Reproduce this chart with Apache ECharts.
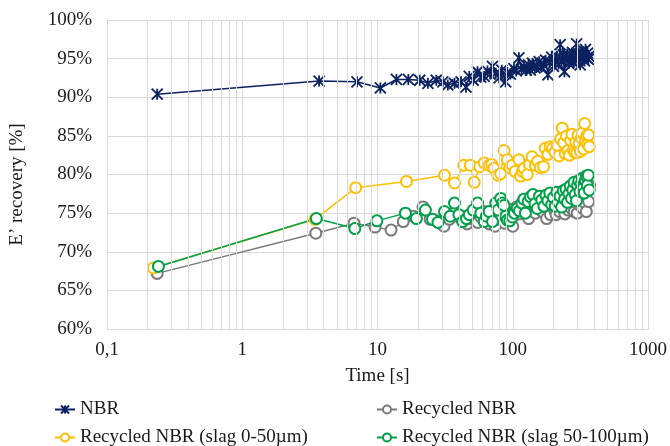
<!DOCTYPE html>
<html>
<head>
<meta charset="utf-8">
<script src="https://cdn.jsdelivr.net/npm/echarts@6/dist/echarts.min.js"></script>
<style>
html, body { margin: 0; background: #fff; }
#chart { width: 670px; height: 446px; }
</style>
</head>
<body>
<div id="chart"></div>
<script>
// time [s] and E' recovery [%] for each compound
var nbrTime = [0.235, 3.7, 7.05, 10.5, 13.8, 16.9, 20.5, 23.6, 27.2, 30.4, 33.1, 37.1, 41.5, 45.1, 47.7, 51, 54.9, 58, 61.5, 65, 68, 70.8, 74.9, 79.3, 83, 88.6, 91.2, 96, 102, 106, 111, 116, 121, 126, 131, 135, 140, 146, 151, 157, 163, 169, 175, 182, 188, 194, 200, 206, 212, 218, 224, 230, 236, 241, 247, 253, 259, 265, 271, 277, 283, 290, 297, 303, 309, 315, 321, 327, 333, 339, 345, 351, 357, 362, 366];
var nbrValue = [90.4, 92.1, 92.0, 91.2, 92.3, 92.3, 92.2, 91.8, 92.2, 92.0, 91.6, 91.8, 92.0, 91.3, 92.7, 92.2, 93.3, 92.6, 92.7, 93.4, 93.0, 94.0, 93.1, 92.5, 93.5, 92.0, 93.2, 93.0, 93.7, 93.4, 95.1, 93.6, 94.0, 93.5, 94.2, 93.5, 94.4, 93.8, 94.0, 94.6, 93.9, 94.2, 94.8, 92.9, 94.5, 95.2, 94.0, 94.7, 95.3, 94.3, 96.8, 94.6, 95.5, 93.3, 95.0, 95.6, 94.4, 95.2, 94.7, 95.8, 94.5, 95.4, 96.9, 94.8, 95.6, 94.2, 95.9, 95.0, 95.4, 94.7, 96.2, 95.1, 95.7, 94.9, 95.3];

var recTime = [0.235, 3.5, 6.7, 9.6, 12.6, 15.5, 18.5, 21.7, 24.5, 27.5, 31, 34, 37, 40, 43, 46, 49, 52, 55, 58, 61, 64, 67, 70, 74, 77, 80, 83, 87, 90, 94, 97, 100, 103, 107, 111, 116, 121, 126, 131, 137, 142, 147, 153, 159, 165, 171, 178, 184, 190, 196, 203, 209, 216, 222, 229, 236, 243, 250, 257, 264, 271, 278, 285, 292, 300, 307, 314, 322, 329, 336, 343, 350, 357, 364, 370];
var recValue = [67.2, 72.4, 73.7, 73.2, 72.8, 73.9, 74.6, 75.8, 74.2, 74.0, 73.3, 74.2, 75.0, 74.5, 74.0, 73.6, 74.3, 74.8, 73.8, 74.5, 75.2, 74.0, 73.6, 74.6, 73.3, 74.2, 75.0, 74.4, 73.7, 74.8, 75.5, 74.0, 73.3, 75.2, 75.8, 74.9, 75.6, 76.1, 75.3, 74.3, 75.8, 76.3, 75.0, 75.9, 76.4, 75.2, 76.0, 74.3, 75.5, 74.8, 76.2, 75.4, 74.8, 76.0, 75.2, 76.5, 75.6, 74.9, 76.2, 75.4, 76.8, 75.6, 77.1, 75.2, 76.4, 75.0, 77.3, 76.0, 77.6, 75.6, 76.9, 76.3, 75.2, 77.8, 76.5, 78.6];

var slag1Time = [0.22, 3.45, 6.9, 16.4, 31.3, 37.1, 43.5, 48.6, 51.9, 57, 61.5, 66.9, 70, 72.6, 77.6, 81.5, 86.3, 91.2, 95, 99.1, 104, 111, 114, 118, 121, 128, 133, 139, 147, 153, 160, 169, 174, 182, 189, 197, 205, 213, 220, 226, 232, 238, 244, 250, 256, 262, 268, 274, 280, 286, 292, 298, 304, 310, 316, 322, 328, 334, 340, 346, 352, 358, 364, 368];
var slag1Value = [67.9, 74.2, 78.3, 79.1, 79.9, 78.9, 81.2, 81.2, 79.0, 81.0, 81.5, 81.2, 81.3, 80.8, 79.9, 80.1, 83.1, 81.9, 80.9, 81.2, 80.4, 81.9, 79.8, 80.4, 80.8, 80.0, 81.3, 82.3, 81.2, 81.7, 80.9, 81.0, 83.4, 82.6, 83.6, 83.4, 82.9, 83.8, 82.4, 84.6, 86.0, 84.1, 82.7, 85.0, 83.1, 82.5, 84.4, 85.2, 83.2, 82.9, 84.2, 82.8, 85.1, 84.0, 83.0, 84.7, 85.4, 83.3, 86.6, 84.4, 85.0, 83.9, 85.1, 83.6];

var slag2Time = [0.24, 3.53, 6.8, 9.9, 16.1, 19.4, 22.6, 25.5, 28.0, 31.3, 34.5, 37.1, 40, 42.6, 45.5, 47.7, 51, 55, 58.1, 61.5, 64, 66.9, 70.8, 74.9, 78, 81.5, 84, 86.3, 89, 91.2, 95, 99.1, 103, 108, 112, 117, 121, 124, 130, 135, 141, 146, 152, 158, 164, 170, 176, 182, 188, 194, 200, 206, 212, 218, 224, 230, 236, 242, 248, 254, 260, 266, 272, 278, 284, 290, 296, 302, 308, 314, 320, 326, 332, 338, 344, 350, 356, 362, 368];
var slag2Value = [68.1, 74.3, 73.0, 74.0, 75.0, 74.3, 75.4, 74.2, 73.8, 75.2, 74.6, 76.3, 74.8, 73.9, 74.3, 74.8, 75.4, 76.3, 75.0, 73.9, 74.6, 75.2, 73.9, 76.3, 75.4, 76.9, 76.3, 76.0, 74.6, 74.1, 74.0, 74.5, 75.0, 75.6, 75.3, 76.3, 76.8, 75.0, 76.5, 77.1, 77.4, 76.2, 75.6, 77.2, 76.7, 75.9, 77.3, 76.6, 77.6, 76.1, 77.0, 75.9, 77.7, 76.4, 77.2, 75.8, 77.9, 76.8, 78.1, 76.4, 77.5, 78.5, 76.9, 78.0, 79.0, 77.4, 76.6, 78.6, 79.2, 77.8, 78.8, 79.5, 78.3, 77.6, 79.2, 79.8, 78.6, 79.9, 78.0];

// log minor gridlines (2..9 of each decade)
var minorTicks = [0.2, 0.3, 0.4, 0.5, 0.6, 0.7, 0.8, 0.9, 2, 3, 4, 5, 6, 7, 8, 9, 20, 30, 40, 50, 60, 70, 80, 90, 200, 300, 400, 500, 600, 700, 800, 900];

var FONT = 'Liberation Serif';
var GRID = '#d9d9d9';
var TXT = '#1a1a1a';
var NAVY = '#0b2160';
var GRAY = '#7a7a7a';
var YELLOW = '#ffc000';
var GREEN = '#00a04a';
var STAR = 'path://M0,0L10,10M10,0L0,10M5,0L5,10';

function zip(t, v) {
    return t.map(function (x, i) { return [x, v[i]]; });
}

function circleSeries(name, t, v, color) {
    return {
        name: name,
        type: 'line',
        data: zip(t, v),
        symbol: 'emptyCircle',
        symbolSize: 11,
        lineStyle: { color: color, width: 1.5 },
        itemStyle: { color: color, borderWidth: 1.6 },
        emphasis: { disabled: true }
    };
}

// one legend per entry so the two columns stay put
function legendAt(name, left, top) {
    return {
        data: [name],
        left: left,
        top: top,
        padding: 0,
        itemWidth: 20,
        itemHeight: 10,
        selectedMode: false,
        textStyle: { fontFamily: FONT, fontSize: 19, color: TXT }
    };
}

var chart = echarts.init(document.getElementById('chart'));

var option = {
    animation: false,
    textStyle: { fontFamily: FONT },
    grid: { left: 106, right: 18, top: 20, bottom: 117 },
    legend: [
        legendAt('NBR', 54, 400),
        legendAt('Recycled NBR (slag 0-50µm)', 54, 428),
        legendAt('Recycled NBR', 376, 400),
        legendAt('Recycled NBR (slag 50-100µm)', 376, 428)
    ],
    xAxis: {
        type: 'log',
        logBase: 10,
        min: 0.1,
        max: 1000,
        name: 'Time [s]',
        nameLocation: 'middle',
        nameGap: 38,
        nameTextStyle: { fontFamily: FONT, fontSize: 19, color: TXT },
        axisLine: { lineStyle: { color: GRID } },
        axisTick: { show: false },
        axisLabel: {
            fontFamily: FONT, fontSize: 19, color: TXT, margin: 12,
            formatter: function (v) { return String(v).replace('.', ','); }
        },
        splitLine: { show: true, lineStyle: { color: GRID } }
    },
    yAxis: {
        type: 'value',
        min: 60,
        max: 100,
        interval: 5,
        name: 'E’ recovery [%]',
        nameLocation: 'middle',
        nameGap: 80,
        nameTextStyle: { fontFamily: FONT, fontSize: 19, color: TXT, padding: [0, 20, 0, 0] },
        axisLine: { show: false },
        axisTick: { show: false },
        axisLabel: { fontFamily: FONT, fontSize: 19, color: TXT, margin: 15, formatter: '{value}%' },
        splitLine: { lineStyle: { color: GRID } }
    },
    series: [
        {
            name: 'minor',
            type: 'line',
            data: [],
            z: 1,
            silent: true,
            markLine: {
                silent: true,
                symbol: ['none', 'none'],
                label: { show: false },
                lineStyle: { color: GRID, type: 'solid', width: 1 },
                data: minorTicks.map(function (v) { return { xAxis: v }; })
            }
        },
        {
            name: 'NBR',
            type: 'line',
            data: zip(nbrTime, nbrValue),
            symbol: STAR,
            symbolSize: 11,
            lineStyle: { color: NAVY, width: 1.5 },
            itemStyle: { color: NAVY, borderColor: NAVY, borderWidth: 1.8 },
            emphasis: { disabled: true }
        },
        circleSeries('Recycled NBR', recTime, recValue, GRAY),
        circleSeries('Recycled NBR (slag 0-50µm)', slag1Time, slag1Value, YELLOW),
        circleSeries('Recycled NBR (slag 50-100µm)', slag2Time, slag2Value, GREEN)
    ]
};

chart.setOption(option);
</script>
</body>
</html>
